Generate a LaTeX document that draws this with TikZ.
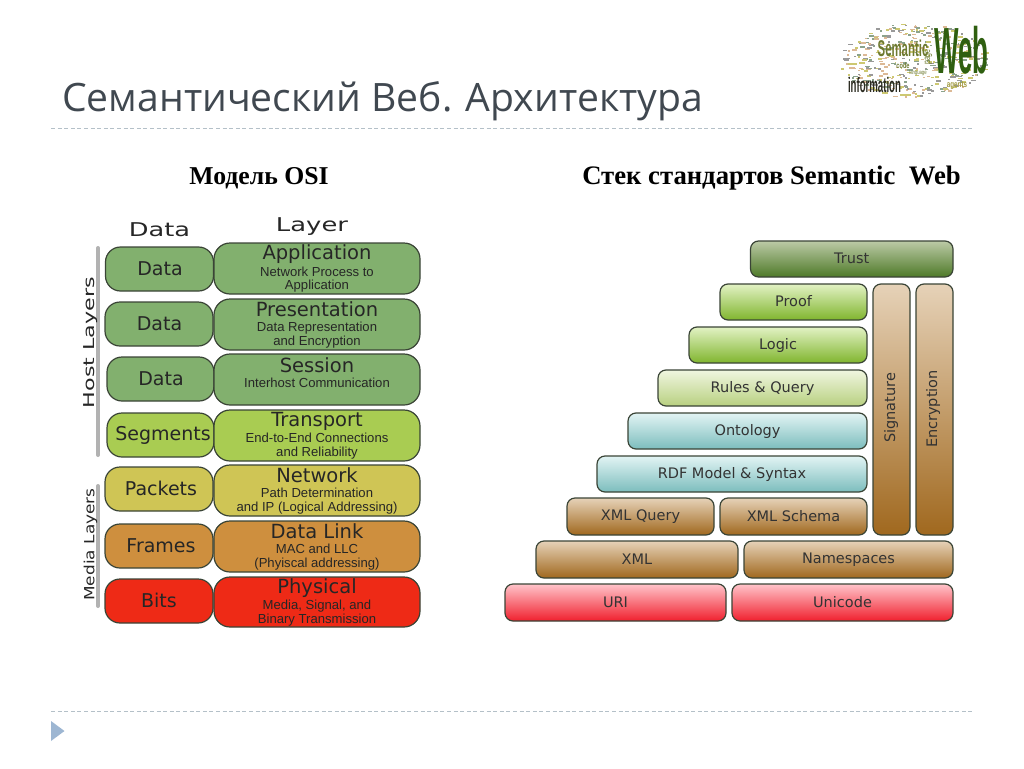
\documentclass[tikz,border=0pt]{standalone}
\usepackage{graphicx}
\usepackage{fontspec}
\setmainfont{Liberation Serif}
\newfontfamily\djv{DejaVu Sans}
\newfontfamily\lib{Liberation Sans}
\newfontfamily\opn{Open Sans}
\definecolor{titlec}{HTML}{404850}
\definecolor{dashc}{HTML}{B4C0C8}
\definecolor{bdr}{HTML}{3A4436}
\definecolor{cgreen}{HTML}{82B06E}
\definecolor{clime}{HTML}{A9CC52}
\definecolor{cyell}{HTML}{CFC555}
\definecolor{corange}{HTML}{CE8F3E}
\definecolor{cred}{HTML}{EE2A16}
\definecolor{txtc}{HTML}{333333}
\definecolor{trustT}{HTML}{BCCAA6}\definecolor{trustB}{HTML}{4E7A28}
\definecolor{proofT}{HTML}{E2F2C4}\definecolor{proofB}{HTML}{80B52E}
\definecolor{ruleT}{HTML}{F0F6E0}\definecolor{ruleB}{HTML}{B8D080}
\definecolor{blueT}{HTML}{E2F4F4}\definecolor{blueB}{HTML}{7CBDBD}
\definecolor{brownT}{HTML}{E6D2B8}\definecolor{brownB}{HTML}{A0681E}
\definecolor{redT}{HTML}{FFC4CA}\definecolor{redB}{HTML}{F0202E}
\definecolor{arrowc}{HTML}{9DB6D2}
\definecolor{webc}{HTML}{2F5F10}
\definecolor{semc}{HTML}{6E7A30}
\definecolor{infc}{HTML}{2B2B20}
\definecolor{agc}{HTML}{A09A40}
\newcommand{\bigf}{\fontsize{19.5}{14}\selectfont}
\newcommand{\subf}{\fontsize{13.1}{13.5}\selectfont}
\newcommand{\layB}[3]{{\djv\bigf #1}\\[2pt]{\lib\subf #2}\\{\lib\subf #3}}
\newcommand{\up}[1]{\raisebox{1.5pt}{#1}}
\newcommand{\bx}[7]{%
  \pgfmathsetmacro{\bw}{#4-#3}\pgfmathsetmacro{\bh}{#6-#5}%
  \pgfmathsetmacro{\cx}{(#4+#3)/2}\pgfmathsetmacro{\cy}{(#6+#5)/2}%
  \node[#2,minimum width=\bw pt,minimum height=\bh pt] (#1) at (\cx,\cy) {#7};}
\tikzset{
  base/.style={draw=bdr,line width=1.2pt,inner sep=0pt,outer sep=0pt,rectangle,align=center},
  osid/.style={base,rounded corners=15pt,text=black!85,font=\djv\fontsize{19}{20}\selectfont},
  osil/.style={base,rounded corners=16pt,text=black!85,font=\fontsize{13}{13.5}\selectfont},
  stk/.style={base,rounded corners=8pt,text=txtc,font=\djv\fontsize{14.5}{16}\selectfont},
  gtrust/.style={stk,top color=trustT,bottom color=trustB},
  gproof/.style={stk,top color=proofT,bottom color=proofB},
  grule/.style={stk,top color=ruleT,bottom color=ruleB},
  gblue/.style={stk,top color=blueT,bottom color=blueB},
  gbrown/.style={stk,top color=brownT,bottom color=brownB},
  gred/.style={stk,top color=redT,bottom color=redB},
  head/.style={font=\bfseries,text=black,inner sep=0pt},
  rulel/.style={dashc,line width=0.8pt,dash pattern=on 4pt off 2.6pt},
  sidebar/.style={line width=4pt,color=black!30,line cap=round},
  colhd/.style={font=\djv\fontsize{19}{20}\selectfont,text=black!85,inner sep=0pt},
  sidelb/.style={rotate=90,text=black!85,inner sep=0pt},
  cloudw/.style={inner sep=0pt,font=\lib},
}
\begin{document}
\begin{tikzpicture}[x=1pt,y=-1pt]
\useasboundingbox (0,0) rectangle (1024,768);
% title
\node[anchor=base west,inner sep=0pt,text=titlec,font=\opn\fontsize{39.1}{41}\selectfont] (title) at (62,111) {Семантический Веб. Архитектура};
\coordinate (ruleAl) at (51,128); \coordinate (ruleAr) at (973,128);
\coordinate (ruleBl) at (51,711); \coordinate (ruleBr) at (973,711);
\draw[rulel] (ruleAl) -- (ruleAr);
\draw[rulel] (ruleBl) -- (ruleBr);
\fill[color=arrowc] (51,721) -- (64.5,731) -- (51,741) -- cycle;
% headings
\node[head,anchor=base] (hOsi) at (259,184) {\fontsize{25.7}{27}\selectfont Модель OSI};
\node[head,anchor=base] (hStack) at (771.5,184) {\fontsize{26.7}{28}\selectfont Стек стандартов Semantic\ \ Web};
% word cloud
\begin{scope}
\pgfmathsetseed{4711}
\foreach \i in {1,...,420}{
  \pgfmathsetmacro{\ang}{rnd*360}\pgfmathsetmacro{\rr}{sqrt(rnd)}
  \pgfmathsetmacro{\px}{913+74*\rr*cos(\ang)}\pgfmathsetmacro{\py}{60+37*\rr*sin(\ang)}
  \pgfmathsetmacro{\ll}{1.5+rnd*4}\pgfmathtruncatemacro{\mixv}{rnd*4}
  \ifnum\mixv=0 \def\cc{black!40}\fi
  \ifnum\mixv=1 \def\cc{olive!45!white}\fi
  \ifnum\mixv=2 \def\cc{green!20!black!45}\fi
  \ifnum\mixv>2 \def\cc{brown!55!white}\fi
  \fill[color=\cc] (\px,\py) rectangle ++(\ll,1.6);
}
\end{scope}
\node[cloudw,text=webc] (cWeb) at (961.5,50.5) {\scalebox{0.54}[1.36]{\bfseries\fontsize{48}{50}\selectfont Web}};
\node[cloudw,text=semc] (cSem) at (903,48) {\scalebox{0.6}[1.2]{\bfseries\fontsize{19}{20}\selectfont Semantic}};
\node[cloudw,text=infc] (cInf) at (874.5,85) {\scalebox{0.55}[1.2]{\bfseries\fontsize{17.5}{20}\selectfont information}};
\node[cloudw,text=semc,rotate=90] (cPage) at (928.5,57) {\scalebox{0.7}[1]{\fontsize{10}{11}\selectfont page}};
\node[cloudw,text=agc] (cAg) at (957,86) {\scalebox{0.7}[1]{\bfseries\fontsize{9}{10}\selectfont agents}};
\node[cloudw,text=semc] (cCode) at (903,66) {\scalebox{0.7}[1]{\bfseries\fontsize{8}{9}\selectfont code}};
\node[cloudw,text=semc] (cLang) at (918,73) {\scalebox{0.7}[1]{\fontsize{6}{7}\selectfont language}};
% OSI column heads
\node[colhd] (hData) at (159.5,229.5) {\scalebox{1.35}[1]{Data}};
\node[colhd] (hLayer) at (312,227) {\scalebox{1.36}[1]{Layer}};
% side bars
\coordinate (hb1) at (98,248); \coordinate (hb2) at (98,455);
\coordinate (mb1) at (98,486); \coordinate (mb2) at (98,606);
\draw[sidebar] (hb1) -- (hb2);
\draw[sidebar] (mb1) -- (mb2);
\node[sidelb,font=\djv\fontsize{15}{16}\selectfont] (hostL) at (91,342.5) {\scalebox{1.48}[1]{Host Layers}};
\node[sidelb,font=\djv\fontsize{14}{16}\selectfont] (mediaL) at (90.5,544.5) {\scalebox{1.21}[1]{Media Layers}};
% OSI data column
\bx{d1}{osid,fill=cgreen}{105.5}{213.5}{247}{291}{\hspace{1pt}Data}
\bx{d2}{osid,fill=cgreen}{105}{213}{302}{346}{\hspace{1pt}Data}
\bx{d3}{osid,fill=cgreen}{107}{214}{357}{401}{\hspace{1pt}Data}
\bx{d4}{osid,fill=clime}{107}{214}{413}{457}{\hspace{5pt}Segments}
\bx{d5}{osid,fill=cyell}{105}{213}{467}{511}{\up{\hspace{4pt}Packets}}
\bx{d6}{osid,fill=corange}{105}{213}{524}{568}{\up{\hspace{4pt}Frames}}
\bx{d7}{osid,fill=cred}{105}{213}{579}{623}{\up{Bits}}
% OSI layer column
\bx{l1}{osil,fill=cgreen}{214}{420}{243}{294}{\layB{Application}{Network Process to}{Application}}
\bx{l2}{osil,fill=cgreen}{214}{420}{299}{350}{\layB{Presentation}{Data Representation}{and Encryption}}
\bx{l3}{osil,fill=cgreen}{214}{420}{354}{405}{\layB{Session}{Interhost Communication}{\phantom{x}}}
\bx{l4}{osil,fill=clime}{214}{420}{410}{461}{\layB{Transport}{End-to-End Connections}{and Reliability}}
\bx{l5}{osil,fill=cyell}{214}{420}{465}{516}{\layB{Network}{Path Determination}{and IP (Logical Addressing)}}
\bx{l6}{osil,fill=corange}{214}{420}{521}{572}{\layB{Data Link}{MAC and LLC}{(Phyiscal addressing)}}
\bx{l7}{osil,fill=cred}{214}{420}{577}{627}{\layB{Physical}{Media, Signal, and}{Binary Transmission}}
% Semantic web stack
\bx{trust}{gtrust}{750.5}{953}{241}{277}{\up{Trust}}
\bx{proof}{gproof}{720}{867}{284}{320}{\up{Proof}}
\bx{logic}{gproof}{689}{867}{327}{363}{\up{Logic}}
\bx{rules}{grule}{658}{867}{370}{406}{\up{Rules \& Query}}
\bx{onto}{gblue}{628}{867}{413}{449}{\up{Ontology}}
\bx{rdf}{gblue}{597}{867}{456}{492}{\up{RDF Model \& Syntax}}
\bx{xq}{gbrown}{567}{714}{498}{535}{\up{XML Query}}
\bx{xs}{gbrown}{720}{867}{498}{535}{\up{XML Schema}}
\bx{xml}{gbrown}{536}{738}{541}{578}{\up{XML}}
\bx{ns}{gbrown}{744}{953}{541}{578}{\up{Namespaces}}
\bx{uri}{gred}{505}{726}{584}{621}{\up{URI}}
\bx{uni}{gred}{732}{953}{584}{621}{\up{Unicode}}
\bx{sig}{gbrown}{873}{910}{284}{535}{}
\bx{enc}{gbrown}{916}{953}{284}{535}{}
\node[rotate=90,text=txtc,inner sep=0pt,font=\djv\fontsize{14.5}{16}\selectfont] (sigT) at (891,408) {Signature};
\node[rotate=90,text=txtc,inner sep=0pt,font=\djv\fontsize{14.5}{16}\selectfont] (encT) at (933,409) {Encryption};
\end{tikzpicture}
\end{document}
